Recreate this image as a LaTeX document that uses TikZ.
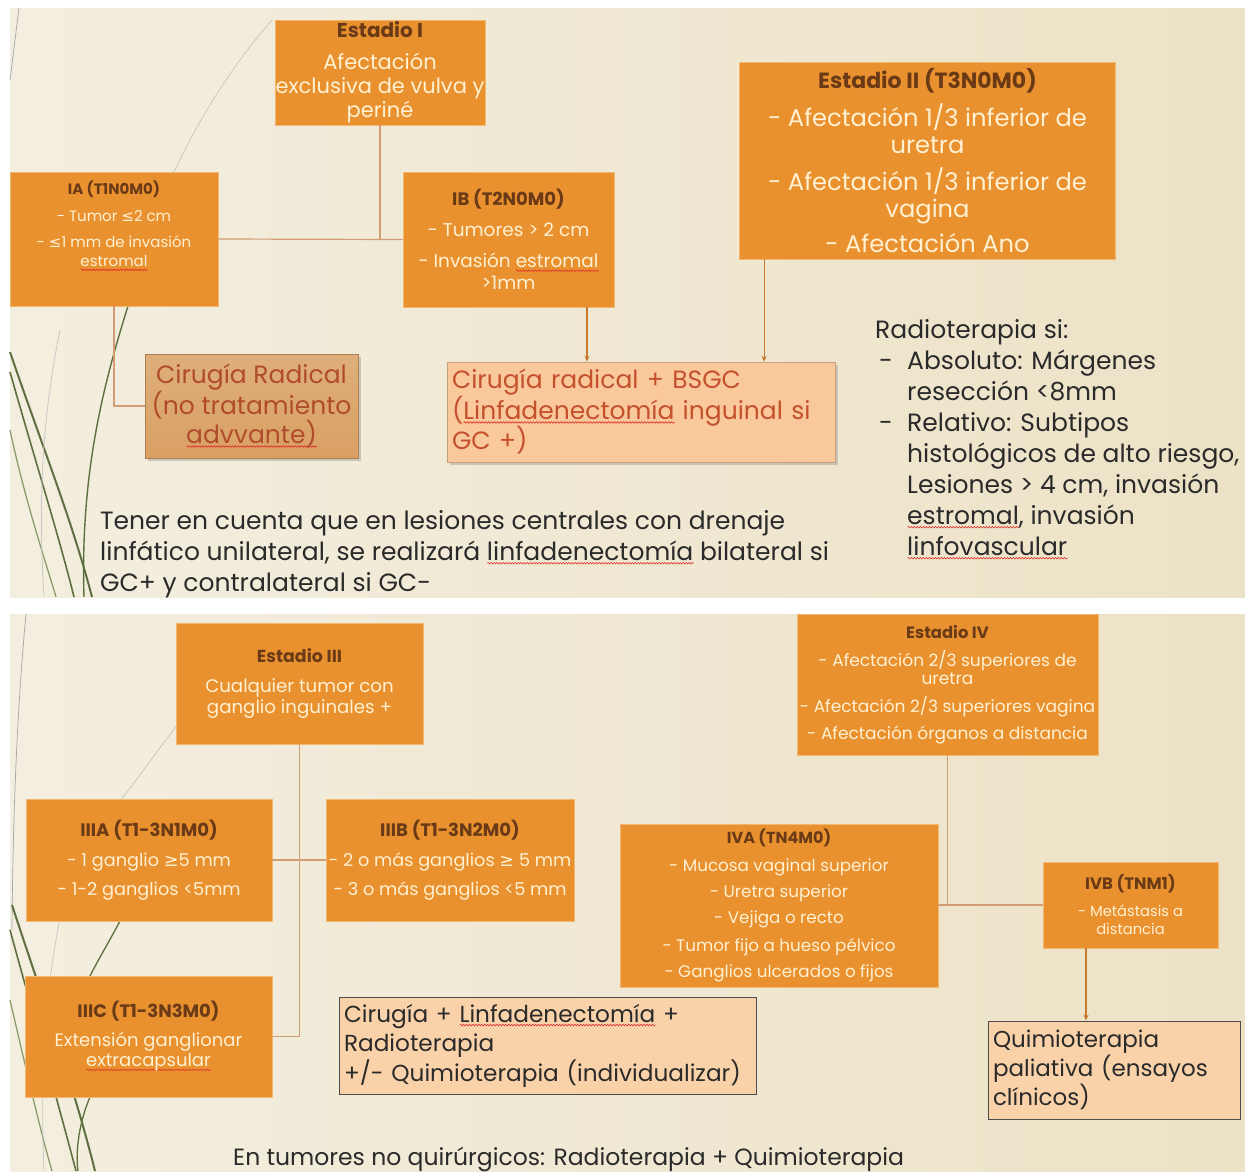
\documentclass[tikz,border=0pt]{standalone}
\usepackage{fontspec}
\setmainfont{Poppins}
\newfontfamily\sym{DejaVu Sans}
\usetikzlibrary{arrows.meta,shadows,decorations.pathmorphing}
\definecolor{ofill}{HTML}{E9912F}
\definecolor{oline}{HTML}{F2B872}
\definecolor{ttl}{HTML}{6A3A17}
\definecolor{btxt}{HTML}{FFF1D2}
\definecolor{conn}{HTML}{D29C74}
\definecolor{arrc}{HTML}{C7792F}
\definecolor{radf}{HTML}{D9A063}
\definecolor{radt}{HTML}{B04C2C}
\definecolor{peach}{HTML}{F9C99B}
\definecolor{peachb}{HTML}{F9D2A9}
\definecolor{redt}{HTML}{C4502E}
\definecolor{bgL}{HTML}{F3EEDF}
\definecolor{bgM}{HTML}{FBFAF5}
\definecolor{bgR}{HTML}{ECE2C6}
\definecolor{leafd}{HTML}{5E7040}
\definecolor{leafm}{HTML}{8C9C6C}
\definecolor{wavered}{HTML}{E0302A}
\definecolor{ink}{HTML}{2A2A2A}
\newsavebox\wbox
\newcommand\rw[1]{\sbox\wbox{#1}\makebox[0pt][l]{\raisebox{-3pt}[0pt][0pt]{\tikz[x=1pt,y=1pt,baseline=0pt]\draw[wavered,line width=0.6pt,decorate,decoration={snake,amplitude=0.8pt,segment length=3pt}] (0,0) -- (\the\wd\wbox,0);}}\usebox\wbox}
\newcommand\fs[2]{\fontsize{#1}{#2}\selectfont}
\newcommand\ttlx[3]{{\fs{#1}{#2}\color{ttl}\bfseries #3}}
\tikzset{
  obox/.style={draw=oline, line width=0.8pt, fill=ofill, inner sep=0pt, align=center, text=btxt},
  conline/.style={draw=conn, line width=1.2pt},
  arr/.style={draw=arrc, line width=1.1pt, -{Stealth[length=6pt,width=5pt]}},
  pbox/.style={draw=black!70, line width=0.9pt, fill=peachb, inner sep=0pt, align=left, text=ink},
}
\begin{document}
\begin{tikzpicture}[x=1pt,y=-1pt]
\useasboundingbox (0,0) rectangle (1245,1171);
\fill[white] (0,0) rectangle (1245,1171);
% backgrounds
\shade[left color=bgL, middle color=bgM, right color=bgR] (10,8) rectangle (1245,597);
\shade[left color=bgL, middle color=bgM, right color=bgR] (10,614) rectangle (1245,1171);
% decorative leaves top
\draw[black!35, line width=0.7pt] (19,8) -- (10,80);
\draw[black!25, line width=0.6pt] (272,20) .. controls (210,90) and (150,200) .. (128,306);
\draw[leafd, line width=1.4pt] (128,306) .. controls (105,380) and (80,470) .. (84,597);
\draw[leafd, line width=2pt] (10,352) .. controls (40,440) and (72,520) .. (92,597);
\draw[leafd, line width=1.6pt] (10,372) .. controls (35,460) and (60,540) .. (74,597);
\draw[leafm, line width=1.3pt] (10,430) .. controls (25,500) and (45,560) .. (56,597);
\draw[black!22, line width=0.8pt] (60,330) .. controls (42,420) and (38,500) .. (44,597);
% decorative leaves bottom
\draw[black!35, line width=0.7pt] (26,614) .. controls (18,700) and (13,800) .. (12,930);
\draw[black!25, line width=0.6pt] (178,724) .. controls (150,760) and (130,790) .. (120,800);
\draw[leafd, line width=1.3pt] (120,921) .. controls (110,940) and (98,960) .. (90,976);
\draw[leafd, line width=1.3pt] (90,1097) .. controls (80,1120) and (75,1150) .. (78,1171);
\draw[leafd, line width=2pt] (12,905) .. controls (40,990) and (75,1090) .. (95,1171);
\draw[leafd, line width=1.6pt] (10,930) .. controls (32,1010) and (60,1110) .. (76,1171);
\draw[leafm, line width=1.3pt] (10,1000) .. controls (24,1060) and (40,1130) .. (52,1171);
\draw[black!22, line width=0.8pt] (64,900) .. controls (45,980) and (40,1080) .. (44,1171);

% ===== TOP SLIDE =====
\node[obox, minimum width=210pt, minimum height=105pt, font=\fs{21}{24}] (sI) at (380,72.5)
 {\ttlx{20}{24}{Estadio I}\\[8pt]Afectación\\exclusiva de vulva y\\periné};
\node[obox, minimum width=208pt, minimum height=134pt, font=\fs{15}{19}] (IA) at (114,239)
 {\ttlx{15}{19}{IA (T1N0M0)}\\[8pt]- Tumor {\sym≤}2 cm\\[7pt]- {\sym≤}1 mm de invasión\\\rw{estromal}\\[11pt]\mbox{}};
\node[obox, minimum width=211pt, minimum height=135pt, font=\fs{18.5}{22}] (IB) at (508.5,239.5)
 {\ttlx{18}{22}{IB (T2N0M0)}\\[9pt]- Tumores > 2 cm\\[9pt]- Invasión \rw{estromal}\\>1mm};
\node[obox, minimum width=376pt, minimum height=197pt, font=\fs{24.2}{26.5}] (sII) at (927.5,160.5)
 {\ttlx{22}{26.5}{Estadio II (T3N0M0)}\\[10pt]- Afectación 1/3 inferior de\\uretra\\[11pt]- Afectación 1/3 inferior de\\vagina\\[9pt]- Afectación Ano};
\node[draw=radf!80!black, line width=0.6pt, top color=radf!85!white, bottom color=radf, inner sep=0pt,
      minimum width=213pt, minimum height=104pt, align=center, text=radt, font=\fs{25}{29},
      drop shadow={shadow xshift=3pt, shadow yshift=-3pt, opacity=0.35}] (rad) at (251.5,406)
 {Cirugía Radical\\(no tratamiento\\\rw{advvante)}};
\node[draw=peach!80!black, line width=0.5pt, fill=peach, inner xsep=5pt, inner ysep=0pt,
      text width=378pt, minimum height=100pt, align=left, text=redt, font=\fs{25}{30.5},
      drop shadow={shadow xshift=3pt, shadow yshift=-3pt, opacity=0.35}] (bsgc) at (641,412)
 {Cirugía radical + BSGC\\(\rw{Linfadenectomía} inguinal si\\GC +)};
% connectors top
\draw[conline] (sI.south) -- (sI.south |- IB.west);
\draw[conline] (IA.east) -- (IB.west);
\draw[conline] (IA.south) |- (rad.west);
\draw[arr] ([xshift=78.5pt]IB.south) -- ([xshift=78.5pt]IB.south |- bsgc.north);
\draw[arr] ([xshift=25pt]sII.south west) -- ([xshift=25pt]sII.south west |- bsgc.north);
% texts top
\node[anchor=north west, inner sep=0pt, align=left, text=ink, font=\fs{25}{31}] (nota) at (100,510)
 {Tener en cuenta que en lesiones centrales con drenaje\\linfático unilateral, se realizará \rw{linfadenectomía} bilateral si\\GC+ y contralateral si GC-};
\node[anchor=north west, inner sep=0pt, align=left, text=ink, font=\fs{25}{31}] (radio) at (875,319)
 {Radioterapia si:\\
  \makebox[32pt][l]{\hspace{4pt}-}Absoluto: Márgenes\\
  \hspace*{32pt}resección <8mm\\
  \makebox[32pt][l]{\hspace{4pt}-}Relativo: Subtipos\\
  \hspace*{32pt}histológicos de alto riesgo,\\
  \hspace*{32pt}Lesiones > 4 cm, invasión\\
  \hspace*{32pt}\rw{estromal}, invasión\\
  \hspace*{32pt}\rw{linfovascular}};

% ===== BOTTOM SLIDE =====
\node[obox, minimum width=247pt, minimum height=121pt, font=\fs{18.2}{21}] (sIII) at (299.5,683.5)
 {\ttlx{17.4}{21}{Estadio III}\\[9pt]Cualquier tumor con\\ganglio inguinales +};
\node[obox, minimum width=246pt, minimum height=122pt, font=\fs{17.7}{21}] (IIIA) at (149,860)
 {\ttlx{18}{21}{IIIA (T1-3N1M0)}\\[9pt]- 1 ganglio {\sym≥}5 mm\\[8pt]- 1-2 ganglios <5mm};
\node[obox, minimum width=248pt, minimum height=122pt, font=\fs{17.7}{21}] (IIIB) at (450,860)
 {\ttlx{18}{21}{IIIB (T1-3N2M0)}\\[9pt]- 2 o más ganglios {\sym≥} 5 mm\\[8pt]- 3 o más ganglios <5 mm};
\node[obox, minimum width=247pt, minimum height=121pt, font=\fs{18}{20}] (IIIC) at (148.5,1036.5)
 {\ttlx{18}{20}{IIIC (T1-3N3M0)}\\[9pt]Extensión ganglionar\\\rw{extracapsular}};
\node[pbox, minimum height=97pt, text width=407pt, inner xsep=5pt, font=\fs{23.2}{29.5}] (cir) at (547.5,1045.5)
 {Cirugía + \rw{Linfadenectomía} +\\Radioterapia\\+/- Quimioterapia (individualizar)};
\node[obox, minimum width=301pt, minimum height=141pt, font=\fs{17}{18}] (sIV) at (947.5,684.5)
 {\ttlx{16.4}{18}{Estadio IV}\\[10pt]- Afectación 2/3 superiores de\\uretra\\[10pt]- Afectación 2/3 superiores vagina\\[8pt]- Afectación órganos a distancia};
\node[obox, minimum width=318pt, minimum height=163pt, font=\fs{16.75}{19}] (IVA) at (779,905.5)
 {\ttlx{16}{19}{IVA (TN4M0)}\\[9pt]- Mucosa vaginal superior\\[7pt]- Uretra superior\\[7pt]- Vejiga o recto\\[9pt]- Tumor fijo a hueso pélvico\\[7pt]- Ganglios ulcerados o fijos};
\node[obox, minimum width=175pt, minimum height=86pt, font=\fs{14.7}{18}] (IVB) at (1130.5,905)
 {\ttlx{16.5}{18}{IVB (TNM1)}\\[9pt]- Metástasis a\\distancia};
\node[pbox, minimum height=98pt, text width=242pt, inner xsep=5pt, font=\fs{23}{29}] (qui) at (1114,1070)
 {Quimioterapia\\paliativa (ensayos\\clínicos)};
% connectors bottom
\draw[conline] (sIII.south) -- (sIII.south |- IIIC.east) -- (IIIC.east);
\draw[conline] (IIIA.east) -- (IIIB.west);
\draw[conline] (sIV.south) -- (sIV.south |- IVB.west);
\draw[conline] (IVA.east |- IVB.west) -- (IVB.west);
\draw[arr] ([xshift=-44.5pt]IVB.south) -- ([xshift=-44.5pt]IVB.south |- qui.north);
\node[anchor=base west, inner sep=0pt, text=ink, font=\fs{23.5}{26}] (foot) at (233,1165)
 {En tumores no quirúrgicos: Radioterapia + Quimioterapia};
\end{tikzpicture}
\end{document}
